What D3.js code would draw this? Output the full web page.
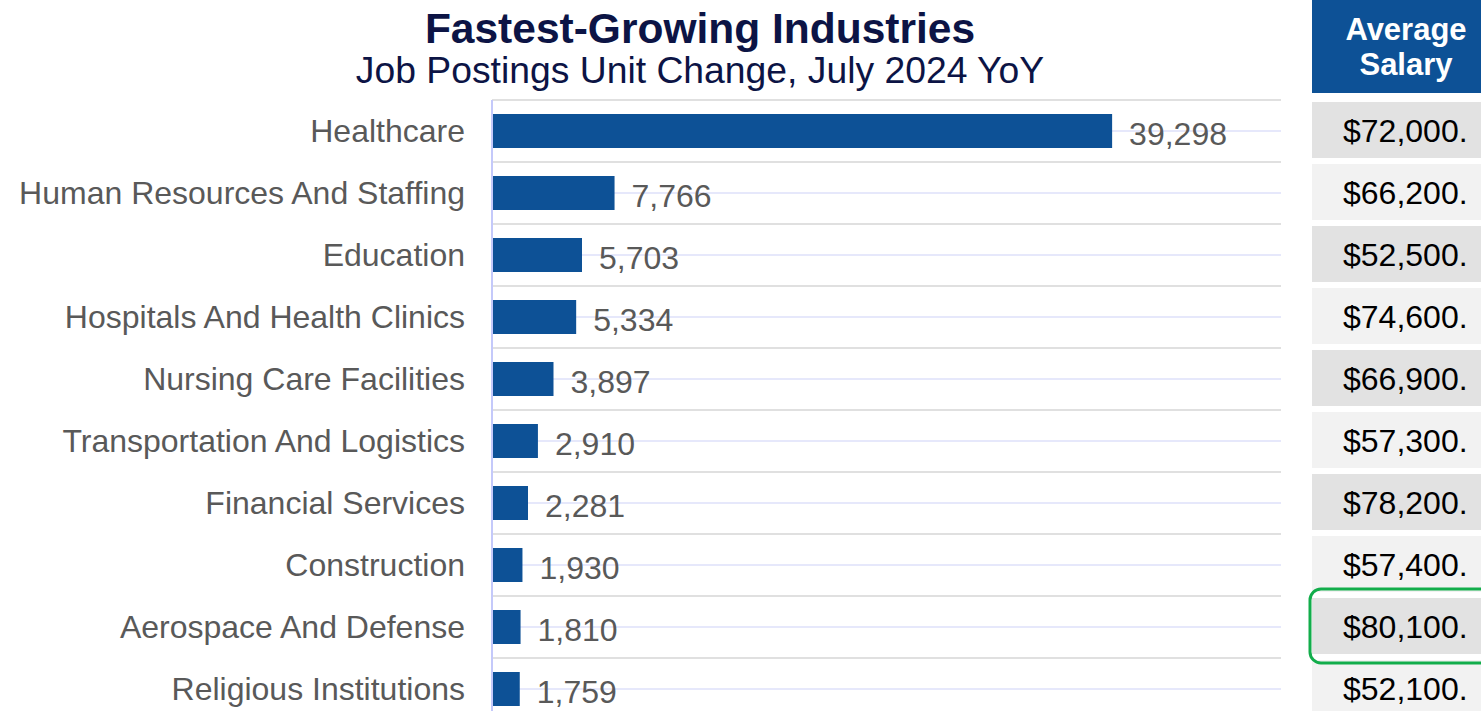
<!DOCTYPE html>
<html>
<head>
<meta charset="utf-8">
<script src="https://cdn.jsdelivr.net/npm/d3@7"></script>
<style>
  html, body { margin: 0; padding: 0; background: #ffffff; overflow: hidden; }
  svg { display: block; font-family: "Liberation Sans", Arial, sans-serif; }
</style>
</head>
<body>
<svg id="chart" width="1481" height="711"></svg>
<script>
const categories = [
  "Healthcare",
  "Human Resources And Staffing",
  "Education",
  "Hospitals And Health Clinics",
  "Nursing Care Facilities",
  "Transportation And Logistics",
  "Financial Services",
  "Construction",
  "Aerospace And Defense",
  "Religious Institutions"
];
const postingsChange = [39298, 7766, 5703, 5334, 3897, 2910, 2281, 1930, 1810, 1759];
const salaryLabels = ["$72,000.", "$66,200.", "$52,500.", "$74,600.", "$66,900.", "$57,300.", "$78,200.", "$57,400.", "$80,100.", "$52,100."];
const highlightedCategory = "Aerospace And Defense";
const titleText = "Fastest-Growing Industries";
const subtitleText = "Job Postings Unit Change, July 2024 YoY";
const salaryHeader = ["Average", "Salary"];

const svg = d3.select("#chart");
const fmt = d3.format(",");

const x = d3.scaleLinear().domain([0, 50000]).range([492, 1281]);
const y = d3.scalePoint().domain(categories).range([131, 689]);
const step = y.step();
const barH = 34;

// Title
svg.append("text")
  .attr("x", 700).attr("y", 43)
  .attr("text-anchor", "middle")
  .attr("font-size", 42.5).attr("font-weight", "bold")
  .attr("fill", "#0c1445")
  .text(titleText);
svg.append("text")
  .attr("x", 700).attr("y", 83)
  .attr("text-anchor", "middle")
  .attr("font-size", 37.3)
  .attr("fill", "#0c1445")
  .text(subtitleText);

// Gridlines
const grid = svg.append("g");
const sepYs = categories.map(c => y(c) - step / 2);
grid.selectAll("line.sep").data(sepYs).join("line")
  .attr("class", "sep")
  .attr("x1", x(0)).attr("x2", x.range()[1])
  .attr("y1", d => d).attr("y2", d => d)
  .attr("stroke", "#e0e0e0").attr("stroke-width", 2);
grid.selectAll("line.mid").data(categories).join("line")
  .attr("class", "mid")
  .attr("x1", x(0)).attr("x2", x.range()[1])
  .attr("y1", d => y(d)).attr("y2", d => y(d))
  .attr("stroke", "#e6e8fb").attr("stroke-width", 2);

// Bars
svg.append("g").selectAll("rect").data(categories).join("rect")
  .attr("x", x(0))
  .attr("y", d => y(d) - barH / 2)
  .attr("width", (d, i) => x(postingsChange[i]) - x(0))
  .attr("height", barH)
  .attr("fill", "#0d5196");

// Axis line
svg.append("line")
  .attr("x1", x(0)).attr("x2", x(0))
  .attr("y1", 100).attr("y2", 720)
  .attr("stroke", "#c4c9fa").attr("stroke-width", 2);

// Category labels
svg.append("g").selectAll("text").data(categories).join("text")
  .attr("x", 465)
  .attr("y", d => y(d) + 11)
  .attr("text-anchor", "end")
  .attr("font-size", 32)
  .attr("fill", "#595959")
  .text(d => d);

// Value labels
svg.append("g").selectAll("text").data(categories).join("text")
  .attr("x", (d, i) => x(postingsChange[i]) + 17)
  .attr("y", d => y(d) + 14)
  .attr("font-size", 32)
  .attr("fill", "#595959")
  .text((d, i) => fmt(postingsChange[i]));

// Salary table header
svg.append("rect")
  .attr("x", 1312).attr("y", 0)
  .attr("width", 1481 - 1312).attr("height", 93)
  .attr("fill", "#0d5196");
svg.append("g").selectAll("text").data(salaryHeader).join("text")
  .attr("x", 1406)
  .attr("y", (d, i) => 40 + i * 35)
  .attr("text-anchor", "middle")
  .attr("font-size", 31).attr("font-weight", "bold")
  .attr("fill", "#ffffff")
  .text(d => d);

// Salary cells
const cells = svg.append("g");
cells.selectAll("rect").data(categories).join("rect")
  .attr("x", 1312)
  .attr("y", d => y(d) - 29)
  .attr("width", 1481 - 1312)
  .attr("height", 56)
  .attr("fill", (d, i) => i % 2 === 0 ? "#e2e2e2" : "#f2f2f2");
cells.selectAll("text").data(categories).join("text")
  .attr("x", 1343)
  .attr("y", d => y(d) + 11)
  .attr("font-size", 32)
  .attr("fill", "#000000")
  .text((d, i) => salaryLabels[i]);

// Highlight
svg.append("rect")
  .attr("x", 1310)
  .attr("y", y(highlightedCategory) - 38)
  .attr("width", 200)
  .attr("height", 74)
  .attr("rx", 11).attr("ry", 11)
  .attr("fill", "none")
  .attr("stroke", "#12ad4b").attr("stroke-width", 3);
</script>
</body>
</html>
